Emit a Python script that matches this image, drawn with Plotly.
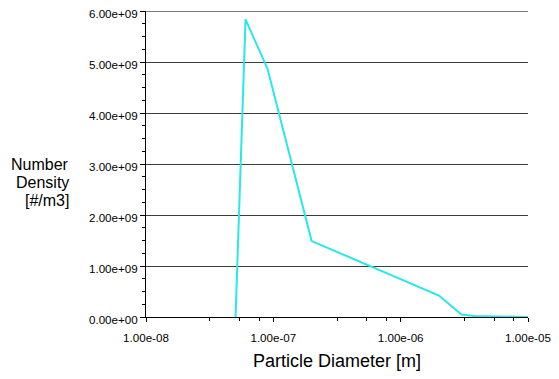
import plotly.graph_objects as go

# Data
diameter_m = [5.05e-8, 6.05e-8, 9.0e-8, 2.0e-7, 2.0e-6, 3.0e-6, 3.8e-6, 1.0e-5]
number_density = [0.0, 5.84e9, 4.87e9, 1.49e9, 0.42e9, 0.05e9, 0.02e9, 0.0]

x_tickvals = [1e-8, 1e-7, 1e-6, 1e-5]
x_ticktext = ["1.00e-08", "1.00e-07", "1.00e-06", "1.00e-05"]
y_tickvals = [0, 1e9, 2e9, 3e9, 4e9, 5e9, 6e9]
y_ticktext = ["0.00e+00", "1.00e+09", "2.00e+09", "3.00e+09", "4.00e+09", "5.00e+09", "6.00e+09"]
y_title_lines = ["Number", "Density", "[#/m3]"]
x_title = "Particle Diameter [m]"

# minor tick positions on the log axis (fractions of a decade as in the reference)
minor_fracs = [0.5, 0.735, 0.888]
x_minor = [10 ** (d + f) for d in (-8, -7, -6) for f in minor_fracs]

font_family = "Liberation Sans, Arial, sans-serif"
grid_color = "#3c3c3c"

fig = go.Figure()
fig.add_trace(go.Scatter(
    x=diameter_m, y=number_density, mode="lines",
    line=dict(color="rgb(40,232,232)", width=2),
    showlegend=False, cliponaxis=False,
))

annotations = [dict(
    text=x_title, xref="paper", yref="paper", x=0.5, y=-0.1438,
    xanchor="center", yanchor="middle", showarrow=False, font=dict(size=18),
)]
for line_text, yy in zip(y_title_lines, [0.498, 0.4395, 0.3807]):
    annotations.append(dict(
        text=line_text, xref="paper", yref="paper", x=-0.1976, y=yy,
        xanchor="right", yanchor="middle", align="right", showarrow=False,
        font=dict(size=16),
    ))

# top gridline (at the last y tick), which plotly omits at the range edge
fig.add_shape(type="line", xref="paper", x0=0, x1=1, yref="y",
              y0=y_tickvals[-1], y1=y_tickvals[-1],
              line=dict(color=grid_color, width=1), layer="below")

fig.update_layout(
    width=551, height=371,
    margin=dict(l=138, r=31, t=3, b=62, pad=0),
    paper_bgcolor="white", plot_bgcolor="white",
    font=dict(family=font_family, color="black", size=11.6),
    xaxis=dict(
        type="log", range=[-8, -5], automargin=False,
        tickvals=x_tickvals, ticktext=x_ticktext,
        ticks="outside", ticklen=4, tickwidth=1, tickcolor="black",
        showline=True, linecolor="black", linewidth=1,
        showgrid=False, zeroline=False,
        tickfont=dict(size=11.6), ticklabeloverflow="allow",
        ticklabelstandoff=6,
        minor=dict(tickvals=x_minor, ticks="outside", ticklen=3, tickcolor="black", showgrid=False),
    ),
    yaxis=dict(
        range=[0, 6.004e9], automargin=False,
        tickvals=y_tickvals, ticktext=y_ticktext,
        ticks="outside", ticklen=5, tickwidth=1, tickcolor="black",
        showline=True, linecolor="black", linewidth=1,
        showgrid=True, gridcolor=grid_color, gridwidth=1, zeroline=False,
        tickfont=dict(size=11.6), ticklabeloverflow="allow",
        ticklabelshift=3,
        minor=dict(dtick=0.25e9, tick0=0, ticks="outside", ticklen=3, tickcolor="black", showgrid=False),
    ),
    annotations=annotations,
)

fig.write_html("out.html")
